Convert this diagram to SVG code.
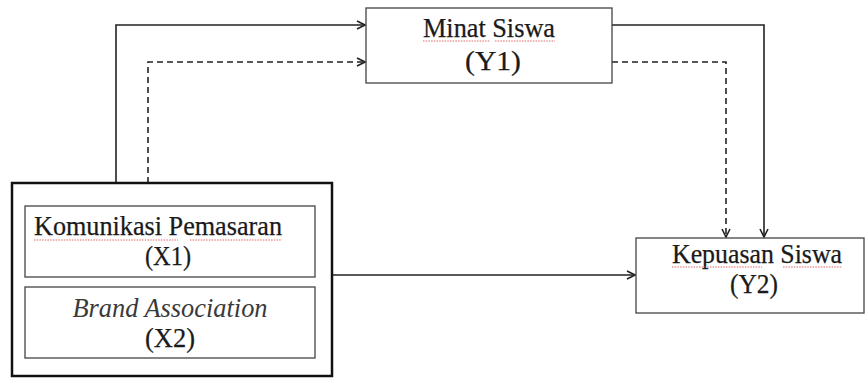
<svg xmlns="http://www.w3.org/2000/svg" width="867" height="378" viewBox="0 0 867 378">
<defs>
<style>
.box{fill:#fff;stroke:#444;stroke-width:1.3}
.outer{fill:#fff;stroke:#111;stroke-width:2.5}
.t{font-family:'Liberation Serif','Times New Roman',Times,serif;font-size:27px;fill:#1a1a1a;stroke:#1a1a1a;stroke-width:0.25;text-anchor:middle}
.i{font-style:italic;fill:#3a3a3a;stroke:none}
.c{fill:none;stroke:#222;stroke-width:1.6}
.d{stroke-dasharray:6 4}
.sq{fill:none;stroke:#d55;stroke-width:0.9;stroke-dasharray:1.5 1.2}
</style>
<marker id="ah" viewBox="0 0 10 10" refX="9" refY="5" markerWidth="10" markerHeight="10" markerUnits="userSpaceOnUse" orient="auto">
<path d="M1,1 L9,5 L1,9" fill="none" stroke="#222" stroke-width="1.6"/>
</marker>
</defs>
<rect width="867" height="378" fill="#fff"/>
<g id="connectors">
<path class="c" d="M116,183 V25 H365" marker-end="url(#ah)"/>
<path class="c d" d="M148,183 V62 H365" marker-end="url(#ah)"/>
<path class="c" d="M612,25 H764 V237" marker-end="url(#ah)"/>
<path class="c d" d="M612,62 H726 V237" marker-end="url(#ah)"/>
<path class="c" d="M332,275 H635" marker-end="url(#ah)"/>
</g>
<g id="minat">
<rect class="box" x="366" y="8" width="246" height="75"/>
<text class="t" x="489" y="37" textLength="132" lengthAdjust="spacingAndGlyphs">Minat Siswa</text>
<text class="t" x="493" y="70" textLength="56" lengthAdjust="spacingAndGlyphs">(Y1)</text>
<path class="sq" d="M423,41 H490 M495,41 H555"/>
</g>
<g id="x">
<rect class="outer" x="12" y="183" width="320" height="193"/>
<g id="x1">
<rect class="box" x="25" y="206" width="290" height="71"/>
<text class="t" x="158" y="235" textLength="248" lengthAdjust="spacingAndGlyphs">Komunikasi Pemasaran</text>
<text class="t" x="168" y="265" textLength="46" lengthAdjust="spacingAndGlyphs">(X1)</text>
<path class="sq" d="M34,240 H178 M190,240 H282"/>
</g>
<g id="x2">
<rect class="box" x="25" y="287" width="290" height="71"/>
<text class="t i" x="170" y="317" textLength="195" lengthAdjust="spacingAndGlyphs">Brand Association</text>
<text class="t" x="170" y="347" textLength="50" lengthAdjust="spacingAndGlyphs">(X2)</text>
</g>
</g>
<g id="kepuasan">
<rect class="box" x="636" y="238" width="228" height="75"/>
<text class="t" x="757" y="263" textLength="170" lengthAdjust="spacingAndGlyphs">Kepuasan Siswa</text>
<text class="t" x="754" y="293" textLength="48" lengthAdjust="spacingAndGlyphs">(Y2)</text>
<path class="sq" d="M672,267 H762 M783,267 H842"/>
</g>
</svg>
